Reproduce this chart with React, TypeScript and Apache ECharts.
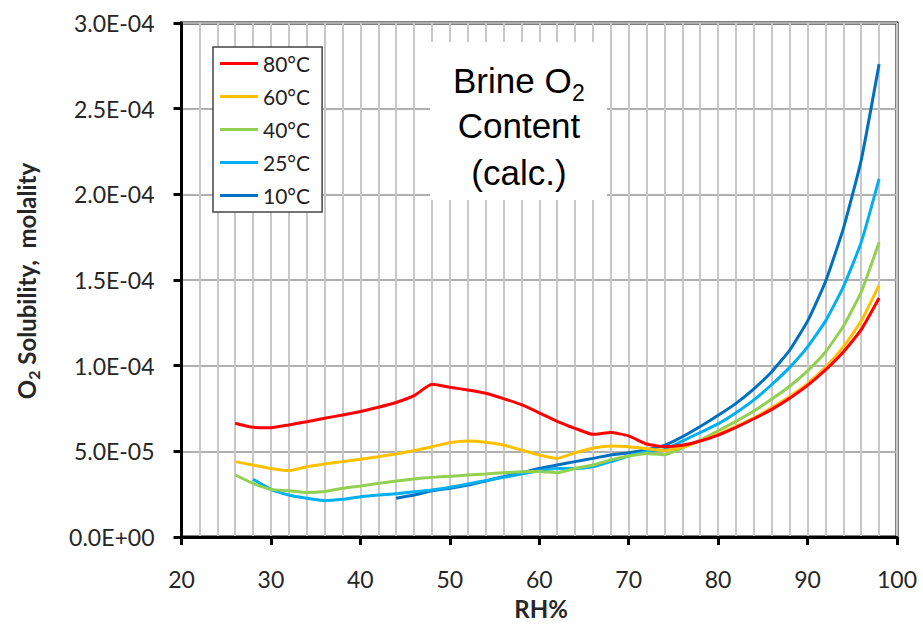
import React, { useEffect, useRef } from "react";
import * as echarts from "echarts";

// RH% sample points for each temperature series
const rh80 = [26, 28, 30, 32, 34, 36, 38, 40, 42, 44, 46, 48, 50, 52, 54, 56, 58, 60, 62, 64, 66, 68, 70, 72, 74, 76, 78, 80, 82, 84, 86, 88, 90, 92, 94, 96, 98];
const sol80 = [6.64e-5, 6.4e-5, 6.38e-5, 6.54e-5, 6.73e-5, 6.93e-5, 7.12e-5, 7.32e-5, 7.57e-5, 7.85e-5, 8.25e-5, 8.91e-5, 8.74e-5, 8.58e-5, 8.39e-5, 8.08e-5, 7.72e-5, 7.25e-5, 6.75e-5, 6.34e-5, 5.99e-5, 6.1e-5, 5.9e-5, 5.43e-5, 5.27e-5, 5.35e-5, 5.6e-5, 5.95e-5, 6.4e-5, 6.9e-5, 7.45e-5, 8.1e-5, 8.85e-5, 9.75e-5, 10.8e-5, 12.1e-5, 13.95e-5];

const rh60 = [26, 28, 30, 32, 34, 36, 38, 40, 42, 44, 46, 48, 50, 52, 54, 56, 58, 60, 62, 64, 66, 68, 70, 72, 74, 76, 78, 80, 82, 84, 86, 88, 90, 92, 94, 96, 98];
const sol60 = [4.4e-5, 4.2e-5, 4.0e-5, 3.87e-5, 4.1e-5, 4.26e-5, 4.4e-5, 4.54e-5, 4.69e-5, 4.85e-5, 5.04e-5, 5.27e-5, 5.5e-5, 5.6e-5, 5.53e-5, 5.37e-5, 5.08e-5, 4.79e-5, 4.59e-5, 4.92e-5, 5.18e-5, 5.31e-5, 5.27e-5, 5.15e-5, 5.05e-5, 5.25e-5, 5.6e-5, 6.0e-5, 6.45e-5, 6.95e-5, 7.55e-5, 8.2e-5, 8.95e-5, 9.9e-5, 11.1e-5, 12.6e-5, 14.7e-5];

const rh40 = [26, 28, 30, 32, 34, 36, 38, 40, 42, 44, 46, 48, 50, 52, 54, 56, 58, 60, 62, 64, 66, 68, 70, 72, 74, 76, 78, 80, 82, 84, 86, 88, 90, 92, 94, 96, 98];
const sol40 = [3.62e-5, 3.13e-5, 2.78e-5, 2.7e-5, 2.59e-5, 2.65e-5, 2.84e-5, 2.98e-5, 3.13e-5, 3.27e-5, 3.39e-5, 3.48e-5, 3.54e-5, 3.62e-5, 3.68e-5, 3.75e-5, 3.81e-5, 3.83e-5, 3.75e-5, 4.0e-5, 4.2e-5, 4.5e-5, 4.73e-5, 4.88e-5, 4.8e-5, 5.2e-5, 5.65e-5, 6.2e-5, 6.75e-5, 7.35e-5, 8.05e-5, 8.8e-5, 9.7e-5, 10.8e-5, 12.3e-5, 14.3e-5, 17.2e-5];

const rh25 = [28, 30, 32, 34, 36, 38, 40, 42, 44, 46, 48, 50, 52, 54, 56, 58, 60, 62, 64, 66, 68, 70, 72, 74, 76, 78, 80, 82, 84, 86, 88, 90, 92, 94, 96, 98];
const sol25 = [3.37e-5, 2.78e-5, 2.45e-5, 2.26e-5, 2.12e-5, 2.2e-5, 2.35e-5, 2.45e-5, 2.52e-5, 2.64e-5, 2.74e-5, 2.9e-5, 3.09e-5, 3.29e-5, 3.48e-5, 3.68e-5, 3.87e-5, 4.0e-5, 4.0e-5, 4.1e-5, 4.4e-5, 4.73e-5, 4.98e-5, 5.1e-5, 5.6e-5, 6.1e-5, 6.6e-5, 7.25e-5, 8.0e-5, 8.9e-5, 9.9e-5, 11.1e-5, 12.6e-5, 14.6e-5, 17.2e-5, 20.9e-5];

const rh10 = [44, 46, 48, 50, 52, 54, 56, 58, 60, 62, 64, 66, 68, 70, 72, 74, 76, 78, 80, 82, 84, 86, 88, 90, 92, 94, 96, 98];
const sol10 = [2.26e-5, 2.45e-5, 2.7e-5, 2.84e-5, 3.03e-5, 3.27e-5, 3.52e-5, 3.75e-5, 4.0e-5, 4.2e-5, 4.4e-5, 4.59e-5, 4.79e-5, 4.92e-5, 5.1e-5, 5.35e-5, 5.85e-5, 6.45e-5, 7.1e-5, 7.8e-5, 8.65e-5, 9.65e-5, 10.9e-5, 12.6e-5, 14.9e-5, 18.0e-5, 22.0e-5, 27.6e-5];

const seriesNames = ["80°C", "60°C", "40°C", "25°C", "10°C"];
const seriesColors = ["#FF0000", "#FFC000", "#92D050", "#00B0F0", "#0070C0"];
const seriesX = [rh80, rh60, rh40, rh25, rh10];
const seriesY = [sol80, sol60, sol40, sol25, sol10];

const titleLines = ["Brine O", "2", "Content", "(calc.)"];
const xAxisTitle = "RH%";
const yAxisTitle = ["O", "2", " Solubility,  molality"];

function fmtSci(v: number): string {
  const s = Number(v).toExponential(1);
  const [m, e] = s.split("e");
  const n = parseInt(e, 10);
  return m + "E" + (n < 0 ? "-" : "+") + String(Math.abs(n)).padStart(2, "0");
}

export default function App() {
  const ref = useRef<HTMLDivElement>(null);
  useEffect(() => {
    if (!ref.current) return;
    const chart = echarts.init(ref.current, undefined, { renderer: "svg" });
    const labelFont = "Lato, 'Open Sans', sans-serif";
    const titleFont = "'Liberation Sans', Arial, sans-serif";
    const option: any = {
      animation: false,
      backgroundColor: "#fff",
      grid: {
        left: 181.5,
        right: 26,
        top: 23,
        bottom: 93,
        show: true,
        borderColor: "#000",
        borderWidth: 3,
        backgroundColor: "transparent",
      },
      legend: {
        orient: "vertical",
        left: 213,
        top: 47,
        padding: [6, 12, 6, 7],
        itemWidth: 38,
        itemHeight: 3,
        itemGap: 12,
        icon: "rect",
        backgroundColor: "#fff",
        borderColor: "#444",
        borderWidth: 1.5,
        textStyle: { fontSize: 21, fontFamily: labelFont, color: "#222", lineHeight: 21 },
        data: seriesNames,
      },
      xAxis: {
        type: "value",
        min: 20,
        max: 100,
        interval: 10,
        axisLine: { show: true, onZero: false, lineStyle: { color: "#000", width: 3 } },
        axisTick: { show: true, inside: false, length: 8, lineStyle: { color: "#000", width: 3 } },
        axisLabel: { fontSize: 23, fontFamily: labelFont, color: "#262626", margin: 30 },
        splitLine: { show: true, lineStyle: { color: "#c8c8c8", width: 2 } },
        minorTick: { show: false, splitNumber: 5 },
        minorSplitLine: { show: true, lineStyle: { color: "#c8c8c8", width: 2 } },
      },
      yAxis: {
        type: "value",
        min: 0,
        max: 3e-4,
        interval: 5e-5,
        axisLine: { show: true, lineStyle: { color: "#000", width: 3 } },
        axisTick: { show: true, inside: false, length: 8, lineStyle: { color: "#000", width: 3 } },
        axisLabel: { fontSize: 23, fontFamily: labelFont, color: "#262626", margin: 27, formatter: fmtSci },
        splitLine: { show: true, lineStyle: { color: "#b0b0b0", width: 2 } },
      },
      series: seriesNames.map((name, i) => ({
        name,
        type: "line",
        symbol: "none",
        smooth: 0.15,
        color: seriesColors[i],
        lineStyle: { color: seriesColors[i], width: 3 },
        data: seriesX[i].map((x, j) => [x, seriesY[i][j]]),
        z: 3 + (seriesNames.length - i),
      })),
      graphic: [
        {
          type: "rect",
          shape: { x: 430, y: 42, width: 177, height: 158 },
          style: { fill: "#fff" },
          z: 50,
        },
        {
          type: "text",
          x: 453,
          y: 80,
          z: 51,
          style: { text: titleLines[0], fontSize: 35, fontFamily: titleFont, fill: "#000", align: "left", verticalAlign: "middle" },
        },
        {
          type: "text",
          x: 572,
          y: 93,
          z: 51,
          style: { text: titleLines[1], fontSize: 23, fontFamily: titleFont, fill: "#000", align: "left", verticalAlign: "middle" },
        },
        {
          type: "text",
          x: 519,
          y: 125,
          z: 51,
          style: { text: titleLines[2], fontSize: 35, fontFamily: titleFont, fill: "#000", align: "center", verticalAlign: "middle" },
        },
        {
          type: "text",
          x: 519,
          y: 172,
          z: 51,
          style: { text: titleLines[3], fontSize: 35, fontFamily: titleFont, fill: "#000", align: "center", verticalAlign: "middle" },
        },
        {
          type: "text",
          x: 541,
          y: 608,
          z: 51,
          style: { text: xAxisTitle, fontSize: 24, fontWeight: "bold", fontFamily: labelFont, fill: "#262626", align: "center", verticalAlign: "middle" },
        },
        {
          type: "text",
          x: 26,
          y: 281,
          rotation: Math.PI / 2,
          z: 51,
          style: {
            text: "{b|" + yAxisTitle[0] + "}{s|" + yAxisTitle[1] + "}{b|" + yAxisTitle[2] + "}",
            align: "center",
            verticalAlign: "middle",
            fill: "#262626",
            rich: {
              b: { fontSize: 24, fontWeight: "bold", fontFamily: labelFont, fill: "#262626", lineHeight: 30 },
              s: { fontSize: 16, fontWeight: "bold", fontFamily: labelFont, fill: "#262626", verticalAlign: "bottom" },
            },
          },
        },
      ],
    };
    chart.setOption(option);
    return () => chart.dispose();
  }, []);
  return (
    <div
      ref={ref}
      style={{ position: "fixed", left: 0, top: 0, width: 923, height: 630 }}
    />
  );
}
